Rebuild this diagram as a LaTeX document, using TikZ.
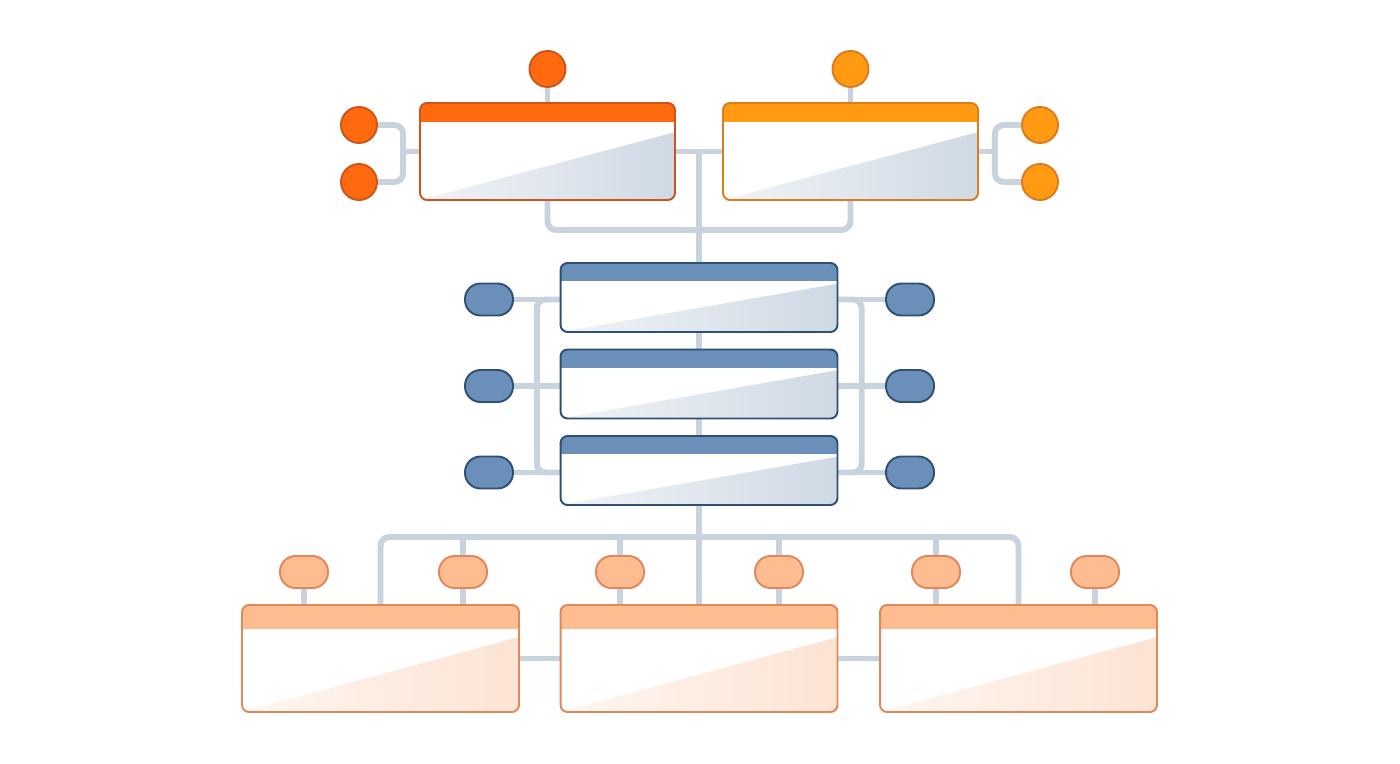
\documentclass[tikz,border=0pt]{standalone}
\usepackage{tikz}
\usetikzlibrary{calc}
\definecolor{flame}{HTML}{FF6A0F}
\definecolor{flameline}{HTML}{CF531B}
\definecolor{amber}{HTML}{FF9A12}
\definecolor{amberline}{HTML}{DD7C1F}
\definecolor{steel}{HTML}{6A90BA}
\definecolor{steelline}{HTML}{2E5075}
\definecolor{peach}{HTML}{FFBC91}
\definecolor{peachline}{HTML}{E0885A}
\definecolor{wire}{HTML}{C8D3DE}
\definecolor{haze}{HTML}{CFD9E4}
\definecolor{blush}{HTML}{FCE3D3}
\pgfdeclarelayer{background}
\pgfsetlayers{background,main}

\begin{document}
\begin{tikzpicture}
[   x=0.02cm, y=-0.02cm,
    link/.style={draw=wire,line width=3.4pt,rounded corners=5pt},
    panel/.style n args={4}{draw=#2,line width=1.1pt,fill=white,rounded corners=4pt,inner sep=0pt,
        path picture={
            \coordinate (pp-sw) at (path picture bounding box.south west);
            \coordinate (pp-ne) at (path picture bounding box.north east);
            \coordinate (pp-t) at ($(pp-sw)!0.7!(pp-ne)$);
            \shade[sharp corners,left color=white!70!#3,right color=#3] (pp-sw) -- (pp-sw -| pp-ne)
                -- (pp-ne |- pp-t) -- cycle;
            \fill[sharp corners,#1] (pp-ne) rectangle ($(pp-sw |- pp-ne)+(0,#4)$);
        }},
    dot/.style 2 args={circle,fill=#1,draw=#2,line width=1.1pt,minimum size=0.72cm,inner sep=0pt},
    pill/.style 2 args={rectangle,rounded corners=0.31cm,fill=#1,draw=#2,line width=1.1pt,
        minimum width=0.96cm,minimum height=0.64cm,inner sep=0pt},
]
    \useasboundingbox (0,0) rectangle (1400,764);

    \node[panel={flame}{flameline}{haze}{19},minimum width=5.1cm,minimum height=1.94cm] (tb-1) at (547.5,151.5) {};
    \node[panel={amber}{amberline}{haze}{19},minimum width=5.1cm,minimum height=1.94cm] (tb-2) at (850.5,151.5) {};
    \node[dot={flame}{flameline}] (tc-1) at (547.5,69) {};
    \node[dot={amber}{amberline}] (tc-2) at (850.5,69) {};
    \foreach \y [count=\i] in {125,182}
    {   \node[dot={flame}{flameline}] (sl-\i) at (359,\y) {};
        \node[dot={amber}{amberline}] (sr-\i) at (1040,\y) {};
    }

    \foreach \y [count=\i] in {297.5,384,470.5}
    {   \node[panel={steel}{steelline}{haze}{18},minimum width=5.54cm,minimum height=1.38cm] (mb-\i) at (699,\y) {};
        \node[pill={steel}{steelline}] (ml-\i) at (489,\y+2) {};
        \node[pill={steel}{steelline}] (mr-\i) at (910,\y+2) {};
    }

    \foreach \x [count=\i] in {380.5,699,1018.5}
        \node[panel={peach}{peachline}{blush}{24},minimum width=5.54cm,minimum height=2.14cm] (bb-\i) at (\x,658.5) {};
    \foreach \x [count=\i] in {304,463,620,779,936,1095}
        \node[pill={peach}{peachline}] (bp-\i) at (\x,572) {};

    \coordinate (tmid) at ($(tb-1.east)!0.5!(tb-2.west)$);
    \coordinate (hub) at (699,230);
    \coordinate (hub2) at (699,537);
    \coordinate (jtl) at ($(tb-1.west)+(-16,0)$);
    \coordinate (jtr) at ($(tb-2.east)+(16,0)$);
    \coordinate (jml) at ($(ml-2.east)!0.5!(mb-2.west |- ml-2)$);
    \coordinate (jmr) at ($(mr-2.west)!0.5!(mb-2.east |- mr-2)$);

    \begin{pgfonlayer}{background}
        \fill[white] (0,0) rectangle (1400,764);
        \draw[link] (tb-1) -- (tb-2);
        \draw[link] (tmid) -- (mb-1);
        \draw[link] (tb-1.south) |- (hub) -| (tb-2.south);
        \foreach \i in {1,2}
            \draw[link] (tc-\i) -- (tb-\i);
        \draw[link] (sl-1) -| (jtl) |- (sl-2);
        \draw[link] (jtl) -- (tb-1);
        \draw[link] (sr-1) -| (jtr) |- (sr-2);
        \draw[link] (jtr) -- (tb-2);

        \foreach \i in {1,2,3}
        {   \draw[link] (ml-\i) -- (mb-\i.west |- ml-\i);
            \draw[link] (mr-\i) -- (mb-\i.east |- mr-\i);
        }
        \draw[link] (mb-1) -- (mb-2);
        \draw[link] (mb-2) -- (mb-3);
        \draw[link] (mb-1.west |- ml-1) -| (jml) |- (mb-3.west |- ml-3);
        \draw[link] (mb-1.east |- mr-1) -| (jmr) |- (mb-3.east |- mr-3);

        \draw[link] (mb-3) -- (bb-2);
        \draw[link] (bb-1) |- (hub2) -| (bb-3);
        \foreach \i/\b in {1/1,2/1,3/2,4/2,5/3,6/3}
            \draw[link] (bp-\i) -- (bp-\i |- bb-\b.north);
        \foreach \i in {2,...,5}
            \draw[link] (bp-\i |- hub2) -- (bp-\i);
        \draw[link] (bb-1) -- (bb-2);
        \draw[link] (bb-2) -- (bb-3);
    \end{pgfonlayer}
\end{tikzpicture}
\end{document}
